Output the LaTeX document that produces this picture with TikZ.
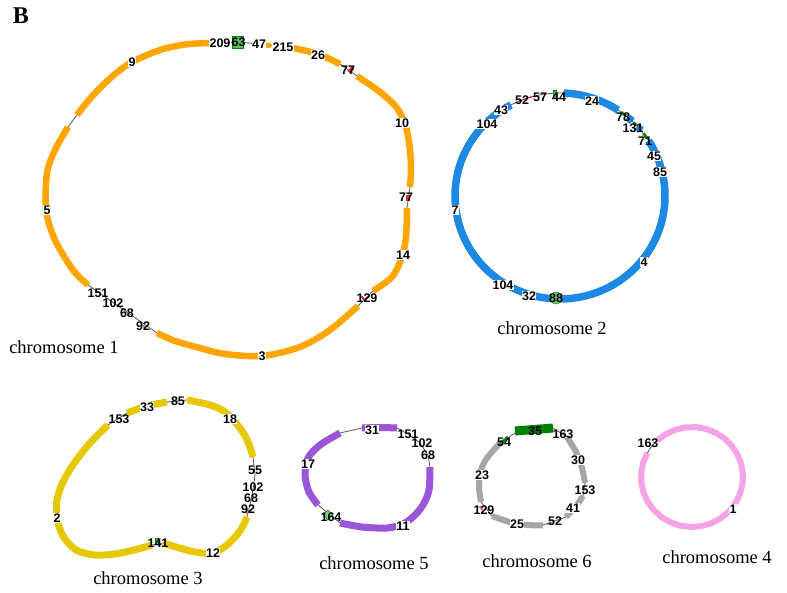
\documentclass[tikz,border=0pt]{standalone}
\usepackage{fontspec}
\setmainfont{Liberation Serif}
\newfontfamily\numfont{Liberation Sans}
\definecolor{corange}{HTML}{FFA500}
\definecolor{cblue}{HTML}{1E88E5}
\definecolor{cyellow}{HTML}{E6C800}
\definecolor{cpurple}{HTML}{9B55D8}
\definecolor{cgray}{HTML}{A6A6A6}
\definecolor{cpink}{HTML}{F5A3E6}
\definecolor{cgreen}{HTML}{3CB043}
\definecolor{dgreen}{HTML}{008000}
\definecolor{cred}{HTML}{E0303A}
\tikzset{
  seg/.style={line width=6.5pt, line cap=butt, line join=round},
  link/.style={line width=0.8pt, draw=black!65},
  num/.style={font=\numfont\bfseries\fontsize{12.5}{12.5}\selectfont, inner sep=0.3pt, fill=white},
  numx/.style={font=\numfont\bfseries\fontsize{12.5}{12.5}\selectfont, inner sep=0.3pt},
  chr/.style={font=\fontsize{18.5}{20}\selectfont, inner sep=0pt},
  gmark/.style={fill=cgreen!85, draw=dgreen, line width=0.3pt, inner sep=0pt},
  rmark/.style={fill=cred, inner sep=0pt},
  gdash/.style={draw=dgreen!80!cgreen, line width=3pt},
}
\begin{document}
\begin{tikzpicture}[x=1pt,y=-1pt]
\useasboundingbox (0,0) rectangle (787,593);
\node[font=\bfseries\fontsize{24}{24}\selectfont, inner sep=0pt] (lblB) at (21,16) {B};

% ---------------- chromosome 1 ----------------
\draw[seg,corange] plot[smooth] coordinates {(77,115) (88,101) (100,88) (115,74) (132,62) (160,50) (185,44.5) (209,43)};
\draw[link] (209,43) -- (232,42.5);
\draw[link] (244,42.5) -- (266,45);
\draw[seg,corange,line width=5pt] (266,45) -- (271,45.6);
\draw[link] (271,45.6) -- (293,48);
\draw[seg,corange] plot[smooth] coordinates {(293,48) (318,54) (340,64)};
\draw[link] (340,64) -- (357,76);
\draw[seg,corange] plot[smooth] coordinates {(357,76) (380,92) (397,108) (406,127) (410,150) (411,170) (410,187)};
\draw[link] (410,187) -- (407,208);
\draw[seg,corange] plot[smooth] coordinates {(407,208) (406,237) (402,257) (392,277) (373,291)};
\draw[link] (373,291) -- (358,306);
\draw[seg,corange] plot[smooth] coordinates {(358,306) (330,330) (300,347) (262,356) (225,354) (200,348) (175,341) (157,333)};
\draw[link] (157,333) -- (88,285);
\draw[seg,corange] plot[smooth] coordinates {(88,285) (73,270) (55,240) (46,210) (47,173) (55,150) (68,127)};
\draw[link] (68,127) -- (77,115);
\node[gmark, minimum width=11pt, minimum height=12pt] (m1a) at (238,42) {};
\node[rmark, minimum width=4pt, minimum height=6pt, rotate=-35] (m1b) at (351,70) {};
\node[rmark, minimum width=4pt, minimum height=6pt] (m1c) at (408,198) {};
\node[rmark, minimum width=2pt, minimum height=5pt, rotate=40] (m1d) at (363,298) {};
\node[fill=cred!60, minimum width=2pt, minimum height=4pt, inner sep=0pt] (m1e) at (144,327) {};
\node[num] (c1n209) at (220,43) {209};
\node[numx] (c1n63) at (238.5,42) {63};
\node[num] (c1n47) at (259,44) {47};
\node[num] (c1n215) at (283,47) {215};
\node[num] (c1n26) at (318,55) {26};
\node[numx] (c1n77a) at (348,70) {77};
\node[num] (c1n10) at (402,123) {10};
\node[numx] (c1n77b) at (406,197) {77};
\node[num] (c1n14) at (403,255) {14};
\node[numx] (c1n129) at (367,298) {129};
\node[num] (c1n3) at (262,356) {3};
\node[numx] (c1n92) at (143,326) {92};
\node[numx] (c1n68) at (127,313) {68};
\node[numx] (c1n102) at (113,303) {102};
\node[numx] (c1n151) at (98,293) {151};
\node[num] (c1n5) at (47,210) {5};
\node[num] (c1n9) at (132,62) {9};
\node[chr] (chr1) at (64,347) {chromosome 1};

% ---------------- chromosome 2 ----------------
\draw[seg,cblue,line width=7.5pt] plot[smooth,domain=117.8:392.5,samples=70] ({560+105*cos(\x)},{196-103*sin(\x)});
\draw[seg,cblue,line width=7.5pt] plot[smooth,domain=56.4:88,samples=16] ({560+105*cos(\x)},{196-103*sin(\x)});
\draw[seg,cblue,line width=7.5pt] plot[smooth,domain=46.5:50,samples=4] ({560+105*cos(\x)},{196-103*sin(\x)});
\draw[seg,cblue,line width=7.5pt] plot[smooth,domain=39.5:42.5,samples=4] ({560+105*cos(\x)},{196-103*sin(\x)});
\draw[link] plot[smooth,domain=88:117.8,samples=10] ({560+105*cos(\x)},{196-103*sin(\x)});
\draw[link] plot[smooth,domain=32.5:56.4,samples=10] ({560+105*cos(\x)},{196-103*sin(\x)});
\draw[draw=cred,line width=1pt] plot[smooth,domain=105:114,samples=5] ({560+105*cos(\x)},{196-103*sin(\x)});
\draw[gdash] plot[smooth,domain=51:54.5,samples=3] ({560+105*cos(\x)},{196-103*sin(\x)});
\draw[gdash] plot[smooth,domain=43.5:45.5,samples=3] ({560+105*cos(\x)},{196-103*sin(\x)});
\draw[gdash] plot[smooth,domain=34:37.5,samples=3] ({560+105*cos(\x)},{196-103*sin(\x)});
\node[gmark, minimum width=3pt, minimum height=8pt] (m2a) at (555,94) {};
\node[circle, fill=cgreen!70, draw=dgreen, line width=0.4pt, minimum size=12pt, inner sep=0pt] (m2b) at (556,298) {};
\node[num] (c2n104a) at (487,124) {104};
\node[num] (c2n43) at (501,110) {43};
\node[numx] (c2n52) at (522,100) {52};
\node[numx] (c2n57) at (540,97) {57};
\node[numx] (c2n44) at (559,97) {44};
\node[num] (c2n24) at (592,101) {24};
\node[numx] (c2n78) at (623,117) {78};
\node[numx] (c2n131) at (633,128) {131};
\node[numx] (c2n71) at (645,141) {71};
\node[num] (c2n45) at (654,156) {45};
\node[num] (c2n85) at (660,172) {85};
\node[num] (c2n4) at (644,262) {4};
\node[numx] (c2n88) at (556,298) {88};
\node[num] (c2n32) at (529,296) {32};
\node[num] (c2n104b) at (503,285) {104};
\node[num] (c2n7) at (455,210) {7};
\node[chr] (chr2) at (552,328) {chromosome 2};

% ---------------- chromosome 3 ----------------
\draw[seg,cyellow,line width=7pt] plot[smooth] coordinates {(127,413) (147,406) (167,402)};
\draw[link] (167,402) -- (187,400);
\draw[seg,cyellow,line width=7pt] plot[smooth] coordinates {(187,400) (210,405) (225,412) (240,428) (248,442) (253,457)};
\draw[link] (253,457) -- (255,475) -- (253,490) -- (250,505) -- (247,517);
\draw[seg,cyellow,line width=7pt] plot[smooth] coordinates {(247,517) (240,531) (227,545) (213,553) (195,552) (176,547) (163,543)};
\draw[link] (163,543) -- (152,545);
\draw[seg,cyellow,line width=7pt] plot[smooth] coordinates {(152,545) (134,550) (115,554) (95,555) (76,550) (63,536) (57,518) (57,500) (63,482) (75,462) (90,443) (108,425)};
\draw[link] (108,425) -- (127,413);
\node[gmark, minimum width=3pt, minimum height=6pt] (m3a) at (157,541) {};
\node[fill=cred!70, minimum width=2pt, minimum height=5pt, inner sep=0pt] (m3b) at (247,511) {};
\node[numx] (c3n153) at (119,419) {153};
\node[num] (c3n33) at (147,407) {33};
\node[numx] (c3n85) at (178,401) {85};
\node[num] (c3n18) at (230,419) {18};
\node[numx] (c3n55) at (255,470) {55};
\node[numx] (c3n102) at (253,487) {102};
\node[numx] (c3n68) at (251,498) {68};
\node[numx] (c3n92) at (248,509) {92};
\node[num] (c3n12) at (213,553) {12};
\node[numx] (c3n141) at (158,543) {141};
\node[num] (c3n2) at (57,518) {2};
\node[chr] (chr3) at (148,578) {chromosome 3};

% ---------------- chromosome 5 ----------------
\draw[seg,cpurple,line width=7pt] plot[smooth] coordinates {(362,428) (380,427.5) (397,428)};
\draw[link] (397,428) -- (408,434) -- (420,443) -- (428,455) -- (430,467);
\draw[seg,cpurple,line width=7pt] plot[smooth] coordinates {(430,467) (429,490) (423,505) (414,516) (403,524) (387,528) (362,527) (340,523)};
\draw[link] (340,523) -- (318,505);
\draw[seg,cpurple,line width=7pt] plot[smooth] coordinates {(318,505) (309,492) (305,475) (308,458) (320,445) (340,433)};
\draw[link] (340,433) -- (362,428);
\node[draw=dgreen, fill=cgreen!60, line width=0.6pt, minimum size=7pt, inner sep=0pt, rotate=45] (m5a) at (328,515) {};
\node[num] (c5n31) at (372,430) {31};
\node[numx] (c5n151) at (408,434) {151};
\node[numx] (c5n102) at (422,443) {102};
\node[numx] (c5n68) at (428,455) {68};
\node[num] (c5n17) at (308,464) {17};
\node[numx] (c5n164) at (331,517) {164};
\node[num] (c5n11) at (403,526) {11};
\node[chr] (chr5) at (374,563) {chromosome 5};

% ---------------- chromosome 6 ----------------
\draw[seg,dgreen,line width=9pt] (515,431) -- (553,428);
\draw[link] (553,428) -- (567,437);
\draw[seg,cgray,line width=6pt] plot[smooth] coordinates {(567,437) (576,452) (582,468) (585,483)};
\draw[link] (585,483) -- (583,496);
\draw[seg,cgray,line width=6pt] plot[smooth] coordinates {(583,496) (576,506) (566,517)};
\draw[link] (566,517) -- (543,525);
\draw[draw=cred!70, line width=1pt] (552,523) -- (547,524.5);
\draw[seg,cgray,line width=6pt] plot[smooth] coordinates {(543,525.5) (517,524) (492,516)};
\draw[link] (492,516) -- (481,502);
\draw[seg,cgray,line width=6pt] plot[smooth] coordinates {(481,502) (479,487) (481,470) (487,458) (500,443)};
\draw[link] (500,443) -- (515,433);
\draw[gdash] (500,444) -- (508,437);
\node[fill=cred!70, minimum width=2pt, minimum height=5pt, inner sep=0pt, rotate=40] (m6a) at (481,508) {};
\node[numx] (c6n35) at (535,431) {35};
\node[numx] (c6n163) at (563,434) {163};
\node[numx] (c6n54) at (504,442) {54};
\node[num] (c6n23) at (482,475) {23};
\node[num] (c6n30) at (578,460) {30};
\node[numx] (c6n153) at (585,490) {153};
\node[num] (c6n41) at (573,508) {41};
\node[numx] (c6n52) at (555,521) {52};
\node[num] (c6n25) at (517,524) {25};
\node[numx] (c6n129) at (484,510) {129};
\node[chr] (chr6) at (537,561) {chromosome 6};

% ---------------- chromosome 4 ----------------
\draw[seg,cpink,line width=6pt] plot[domain=151:493,samples=30] ({692+51*cos(\x)},{477-50*sin(\x)});
\draw[link] plot[smooth,domain=133:151,samples=5] ({692+51*cos(\x)},{477-50*sin(\x)});
\node[numx] (c4n163) at (648,443) {163};
\node[num] (c4n1) at (733,509) {1};
\node[chr] (chr4) at (717,557) {chromosome 4};
\end{tikzpicture}
\end{document}
